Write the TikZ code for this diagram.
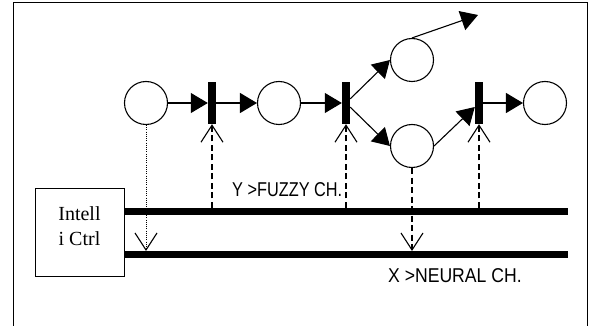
\documentclass[tikz,border=0pt]{standalone}
\usepackage{graphicx}
\usepackage{fontspec}
\setmainfont{Liberation Serif}
\newfontfamily\labfont{Liberation Sans}
\usetikzlibrary{arrows.meta}
\begin{document}
\begin{tikzpicture}[x=1pt,y=-1pt,
 place/.style={circle,draw,line width=1.1pt,minimum size=43pt,inner sep=0pt},
 trans/.style={fill=black,minimum width=8pt,minimum height=42pt,inner sep=0pt},
 arc/.style={line width=1.1pt,-{Triangle[length=17pt,width=20pt]}},
 ctrlarc/.style={line width=1.1pt,dash pattern=on 6pt off 3.5pt,-{Straight Barb[length=17pt,width=22pt,line width=1.1pt]}},
 dotarc/.style={line width=0.9pt,dash pattern=on 0.9pt off 1.3pt,-{Straight Barb[length=17pt,width=22pt,line width=1.1pt]}},
 channel/.style={line width=7pt},
 lab/.style={font=\labfont\fontsize{20}{24}\selectfont,inner sep=0pt,anchor=base west}]
\useasboundingbox (0,0) rectangle (590,326);
\draw[line width=1pt] (13,326) -- (13,3) -- (587,3) -- (587,326);

% places and transitions
\node[place] (p1) at (146,103) {};
\node[trans] (t1) at (212,103) {};
\node[place] (p2) at (279,103) {};
\node[trans] (t2) at (346,103) {};
\node[place] (p3) at (412,60) {};
\node[place] (p4) at (412,146) {};
\node[trans] (t3) at (479,103) {};
\node[place] (p5) at (545,103) {};
\coordinate (pend) at (478,15);

% channels
\node[draw,line width=1pt,minimum width=89pt,minimum height=88pt,inner sep=0pt] (ctrl) at (79.5,233) {};
\node[font=\fontsize{20}{25}\selectfont,align=center,inner sep=0pt] (ctrltext) at (79.5,226) {Intell\\i Ctrl};
\coordinate (ys) at (124,211.5);
\coordinate (ye) at (568,211.5);
\coordinate (xs) at (124,254.5);
\coordinate (xe) at (568,254.5);
\coordinate (ytop) at (124,208);
\coordinate (xtop) at (124,251);

% arcs
\draw[arc] (p1) -- (t1);
\draw[arc] (t1) -- (p2);
\draw[arc] (p2) -- (t2);
\draw[arc] (t2) -- (p3.west);
\draw[arc] (t2) -- (p4.west);
\draw[arc] (p4.east) -- (t3);
\draw[arc] (t3) -- (p5);
\draw[arc] (p3.north) -- (pend);

% control links
\draw[dotarc] (p1.south) -- (p1|-xtop);
\draw[ctrlarc] (t1|-ytop) -- (t1.south);
\draw[ctrlarc] (t2|-ytop) -- (t2.south);
\draw[ctrlarc] (t3|-ytop) -- (t3.south);
\draw[ctrlarc] (p4.south) -- (p4|-xtop);

\draw[channel] (ys) -- (ye);
\draw[channel] (xs) -- (xe);

\node[lab] (ylab) at (232,197) {\scalebox{0.815}[1]{Y >FUZZY CH.}};
\node[lab] (xlab) at (388,283) {\scalebox{0.88}[1]{X >NEURAL CH.}};
\end{tikzpicture}
\end{document}
